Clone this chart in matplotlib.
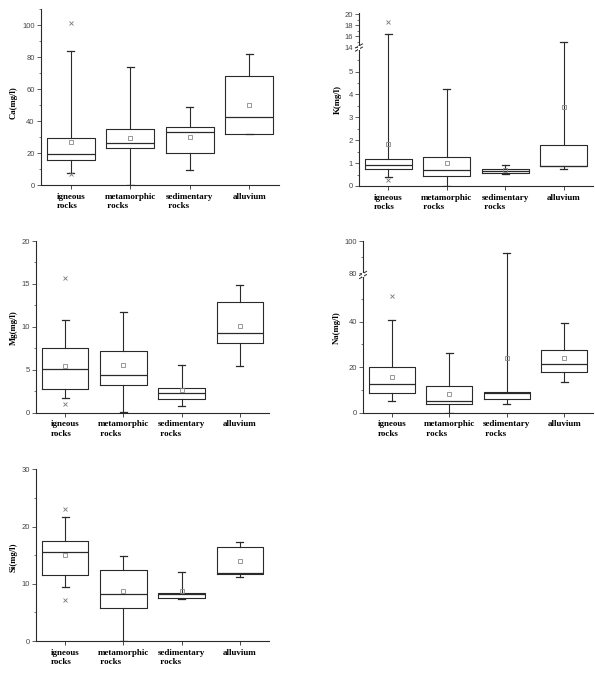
import matplotlib
matplotlib.use("Agg")
import matplotlib.pyplot as plt
from matplotlib.lines import Line2D
from matplotlib.ticker import MultipleLocator, FixedLocator

# ---------------- data ----------------
categories = ["igneous\nrocks", "metamorphic\n rocks", "sedimentary\n rocks", "alluvium"]

ca_whislo = [7.7, 0.0, 9.2, 31.7]
ca_q1 = [15.6, 23.0, 20.2, 31.7]
ca_med = [19.2, 26.5, 33.2, 42.6]
ca_q3 = [29.6, 35.3, 36.5, 68.3]
ca_whishi = [84.1, 74.1, 49.0, 81.8]
ca_mean = [26.7, 29.4, 29.9, 50.3]
ca_fliers = [[101.6, 6.7], [], [], []]

k_whislo = [0.38, 0.0, 0.53, 0.75]
k_q1 = [0.74, 0.44, 0.56, 0.86]
k_med = [0.93, 0.68, 0.66, 0.88]
k_q3 = [1.2, 1.28, 0.75, 1.78]
k_whishi = [16.46, 4.22, 0.90, 14.9]
k_mean = [1.82, 1.0, 0.68, 3.44]
k_fliers = [[18.5, 0.26], [], [], []]

mg_whislo = [1.75, 0.05, 0.78, 5.44]
mg_q1 = [2.76, 3.22, 1.63, 8.12]
mg_med = [5.13, 4.39, 2.29, 9.24]
mg_q3 = [7.57, 7.15, 2.91, 12.89]
mg_whishi = [10.8, 11.77, 5.55, 14.87]
mg_mean = [5.44, 5.59, 2.68, 10.14]
mg_fliers = [[15.7, 0.97], [], [], []]

na_whislo = [5.2, 0.0, 3.7, 13.3]
na_q1 = [8.7, 3.7, 6.0, 17.8]
na_med = [12.4, 5.3, 8.8, 21.4]
na_q3 = [19.9, 11.65, 9.1, 27.4]
na_whishi = [40.6, 26.1, 92.4, 39.5]
na_mean = [15.9, 8.4, 24.0, 24.0]
na_fliers = [[51.2], [], [], []]

si_whislo = [9.43, 0.0, 7.34, 11.12]
si_q1 = [11.47, 5.82, 7.45, 11.65]
si_med = [15.5, 8.15, 8.27, 11.94]
si_q3 = [17.5, 12.46, 8.33, 16.37]
si_whishi = [21.7, 14.9, 12.11, 17.36]
si_mean = [15.0, 8.8, 8.7, 13.98]
si_fliers = [[23.06, 7.16], [], [], []]

# ---------------- styling ----------------
W, H = 595, 680
LC = "#2a2a2a"
TICKC = "#444444"
plt.rcParams["font.family"] = ["Liberation Sans", "DejaVu Sans"]

fig = plt.figure(figsize=(W / 100, H / 100), dpi=100)


def px_axes(left, right, top, bottom):
    return fig.add_axes([left / W, (H - bottom) / H, (right - left) / W, (bottom - top) / H])


def make_stats(lo, q1, med, q3, hi, mean, fl):
    out = []
    for i in range(len(lo)):
        out.append(dict(whislo=lo[i], q1=q1[i], med=med[i], q3=q3[i],
                        whishi=hi[i], mean=mean[i], fliers=fl[i]))
    return out


def draw_boxes(ax, stats):
    ax.bxp(stats, positions=[1, 2, 3, 4], widths=0.8, capwidths=0.12,
           showmeans=True, showfliers=True, manage_ticks=False,
           boxprops=dict(color=LC, lw=0.8),
           medianprops=dict(color=LC, lw=0.9),
           whiskerprops=dict(color=LC, lw=0.8),
           capprops=dict(color=LC, lw=0.9),
           flierprops=dict(marker="x", markersize=2.2, markeredgecolor="#777777",
                           markeredgewidth=0.6, linestyle="none"),
           meanprops=dict(marker="s", markersize=2.4, markerfacecolor="none",
                          markeredgecolor="#888888", markeredgewidth=0.6))


def style_axis(ax, bottom=True, top_spine_visible=False):
    ax.set_xlim(0.5, 4.5)
    ax.spines["right"].set_visible(False)
    ax.spines["top"].set_visible(False)
    for s in ("left", "bottom"):
        ax.spines[s].set_color(LC)
        ax.spines[s].set_linewidth(0.8)
    ax.tick_params(axis="y", which="major", direction="out", length=3, width=0.6,
                   labelsize=5.5, colors=TICKC, pad=1.5)
    ax.tick_params(axis="y", which="minor", direction="out", length=1.6, width=0.5, colors=TICKC)
    if bottom:
        ax.set_xticks([1, 2, 3, 4])
        ax.set_xticklabels(categories, fontfamily="Liberation Serif", fontweight="bold",
                           fontsize=6.5, multialignment="left")
        ax.tick_params(axis="x", direction="out", length=3, width=0.6, colors=LC, pad=2.5)
        for lab in ax.get_xticklabels():
            lab.set_color("black")
    else:
        ax.spines["bottom"].set_visible(False)
        ax.set_xticks([])
    ax.patch.set_alpha(0)


def ylabel(x, y, text):
    fig.text(x / W, (H - y) / H, text, rotation=90, ha="center", va="center",
             fontfamily="Liberation Serif", fontweight="bold", fontsize=6.3)


def break_marks(x, y):
    for dy in (-1.6, 1.6):
        fig.add_artist(Line2D([(x - 3.5) / W, (x + 3.5) / W],
                              [(H - (y + dy + 2)) / H, (H - (y + dy - 2)) / H],
                              color=LC, lw=0.7))
    # white gap between
    fig.add_artist(Line2D([x / W, x / W], [(H - (y + 1)) / H, (H - (y - 1)) / H],
                          color="white", lw=1.5))


# ---------------- Ca ----------------
ax = px_axes(41, 279, 9.3, 185)
draw_boxes(ax, make_stats(ca_whislo, ca_q1, ca_med, ca_q3, ca_whishi, ca_mean, ca_fliers))
ax.set_ylim(0, 110)
ax.yaxis.set_major_locator(FixedLocator([0, 20, 40, 60, 80, 100]))
ax.yaxis.set_minor_locator(MultipleLocator(10))
style_axis(ax)
ylabel(14, 103, "Ca(mg/l)")

# ---------------- K (broken) ----------------
k_stats = make_stats(k_whislo, k_q1, k_med, k_q3, k_whishi, k_mean, k_fliers)
axl = px_axes(359, 593, 47.5, 186)
draw_boxes(axl, k_stats)
axl.set_ylim(0, 6.05)
axl.yaxis.set_major_locator(FixedLocator([0, 1, 2, 3, 4, 5]))
axl.yaxis.set_minor_locator(MultipleLocator(0.5))
style_axis(axl)
axu = px_axes(359, 593, 13, 47.5)
draw_boxes(axu, k_stats)
axu.set_ylim(14, 20.2)
axu.yaxis.set_major_locator(FixedLocator([14, 16, 18, 20]))
axu.yaxis.set_minor_locator(MultipleLocator(1))
style_axis(axu, bottom=False)
break_marks(359, 47.5)
ylabel(338, 100, "K(mg/l)")

# ---------------- Mg ----------------
ax = px_axes(36, 269, 241, 412.7)
draw_boxes(ax, make_stats(mg_whislo, mg_q1, mg_med, mg_q3, mg_whishi, mg_mean, mg_fliers))
ax.set_ylim(0, 20)
ax.yaxis.set_major_locator(FixedLocator([0, 5, 10, 15, 20]))
ax.yaxis.set_minor_locator(MultipleLocator(2.5))
style_axis(ax)
ylabel(14, 328, "Mg(mg/l)")

# ---------------- Na (broken) ----------------
na_stats = make_stats(na_whislo, na_q1, na_med, na_q3, na_whishi, na_mean, na_fliers)
axl = px_axes(363, 593, 275, 412.7)
draw_boxes(axl, na_stats)
axl.set_ylim(0, 60.5)
axl.yaxis.set_major_locator(FixedLocator([0, 20, 40]))
axl.yaxis.set_minor_locator(MultipleLocator(10))
style_axis(axl)
axu = px_axes(363, 593, 241, 275)
draw_boxes(axu, na_stats)
axu.set_ylim(79, 100)
axu.yaxis.set_major_locator(FixedLocator([80, 100]))
axu.yaxis.set_minor_locator(MultipleLocator(10))
style_axis(axu, bottom=False)
break_marks(363, 275)
ylabel(337, 328, "Na(mg/l)")

# ---------------- Si ----------------
ax = px_axes(36, 269, 469.3, 641)
draw_boxes(ax, make_stats(si_whislo, si_q1, si_med, si_q3, si_whishi, si_mean, si_fliers))
ax.set_ylim(0, 30)
ax.yaxis.set_major_locator(FixedLocator([0, 10, 20, 30]))
ax.yaxis.set_minor_locator(MultipleLocator(5))
style_axis(ax)
ylabel(14, 557, "Si(mg/l)")

fig.savefig("out.png", dpi=100)
